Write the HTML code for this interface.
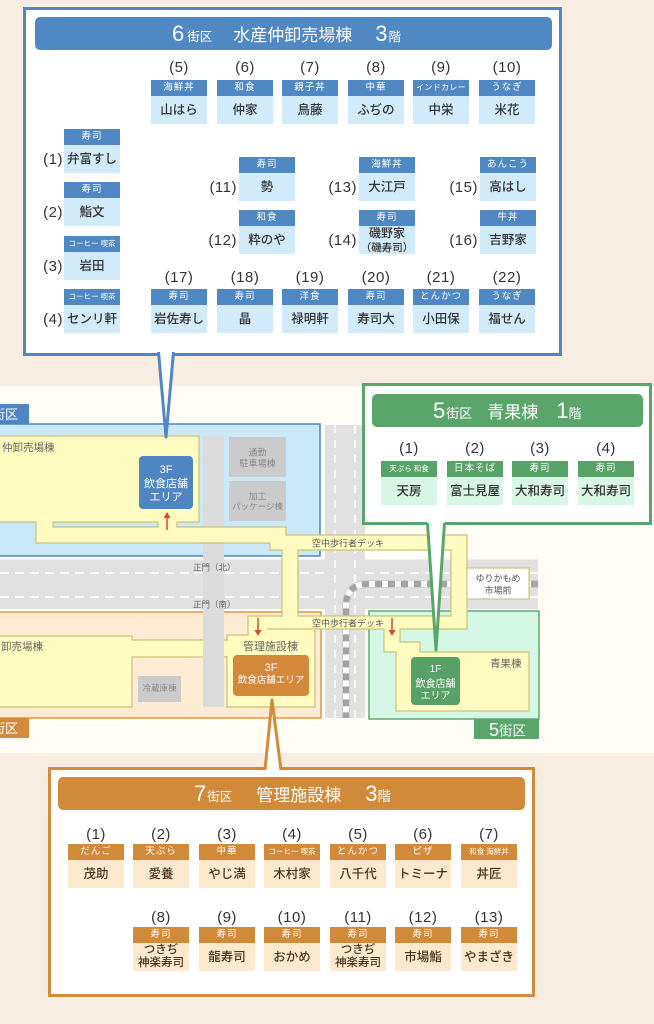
<!DOCTYPE html>
<html><head><meta charset="utf-8">
<style>
*{margin:0;padding:0;box-sizing:border-box}
html,body{width:654px;height:1024px}
body{overflow:hidden;background:#f7ede1;position:relative;font-family:"Liberation Sans","Noto Sans CJK JP",sans-serif}
.box{position:absolute;background:#fff;border:3px solid}
.bar{position:absolute;height:33px;border-radius:5px;color:#fff;white-space:nowrap;font-size:17px;line-height:37px}
.bar span{line-height:1}
.bar .g{font-size:22px}
.bar .s{font-size:12.5px}
.card{position:absolute;width:56px;text-align:center}
.card .h{height:16px;line-height:16px;font-size:9.5px;color:#fff;letter-spacing:1px;white-space:nowrap;overflow:hidden}
.card .h.t{font-size:7.5px;letter-spacing:0}
.card .h.m{font-size:8px;letter-spacing:.3px}
.card .b{height:28px;line-height:28px;font-size:12.5px;color:#333;font-weight:500;white-space:nowrap}
.card .b.two{line-height:13px;padding-top:1px;font-size:11.5px}
.bl .h{background:#5088c4}.bl .b{background:#d2ebfb}
.gr .h{background:#58a468}.gr .b{background:#d7f6e5}
.or .h{background:#d08a3a}.or .b{background:#fde9cd;color:#4b3320}
.nt{position:absolute;width:56px;text-align:center;font-size:15px;line-height:16px;color:#333;letter-spacing:.5px}
.ns{position:absolute;width:40px;text-align:right;font-size:15px;line-height:16px;color:#333;letter-spacing:.5px}
</style></head><body>

<svg width="654" height="1024" style="position:absolute;left:0;top:0" font-family="'Liberation Sans','Noto Sans CJK JP',sans-serif">
<rect x="0" y="386" width="654" height="367" fill="#fffdf6"/>
<!-- zones -->
<rect x="-5" y="424" width="325" height="132" fill="#cbe8f9" stroke="#4f86c4" stroke-width="1.5"/>
<rect x="0" y="404" width="29" height="20" fill="#4f86c2"/>
<text x="18" y="419" text-anchor="end" font-size="13" fill="#fff">街区</text>
<rect x="-5" y="612" width="326" height="106" fill="#fdebd4" stroke="#e0963f" stroke-width="1.5"/>
<rect x="0" y="718" width="29" height="20" fill="#d48a3a"/>
<text x="18" y="733" text-anchor="end" font-size="13" fill="#fff">街区</text>
<rect x="369" y="611" width="170" height="108" fill="#d5f7e5" stroke="#5dab70" stroke-width="1.5"/>
<rect x="474" y="719" width="65" height="20" fill="#5aa569"/>
<text x="489" y="736" font-size="18" fill="#fff">5<tspan font-size="13.5" dy="-0.5">街区</tspan></text>
<!-- roads -->
<rect x="0" y="559.5" width="538" height="49.5" fill="#e1e1e1"/>
<rect x="325" y="425" width="40" height="293" fill="#e1e1e1"/>
<g stroke="#fff" stroke-width="1.4" stroke-dasharray="9 6" fill="none">
<line x1="0" y1="573" x2="325" y2="573"/><line x1="0" y1="597" x2="325" y2="597"/>
<line x1="365" y1="573" x2="538" y2="573"/><line x1="365" y1="597" x2="538" y2="597"/>
<line x1="335" y1="425" x2="335" y2="718" stroke-dasharray="8 7"/><line x1="355" y1="425" x2="355" y2="718" stroke-dasharray="8 7"/>
</g>
<!-- track -->
<path d="M538,584 L368,584 Q346,584 346,606 L346,718" fill="none" stroke="#cfcfcf" stroke-width="8"/>
<path d="M538,584 L368,584 Q346,584 346,606 L346,718" fill="none" stroke="#fff" stroke-width="6"/>
<path d="M538,584 L368,584 Q346,584 346,606 L346,718" fill="none" stroke="#a3a3a3" stroke-width="6" stroke-dasharray="7 6"/>
<!-- lower-left building -->
<path d="M-5,636 L132,636 L132,640 L232,640 L232,657 L132,657 L132,707 L-5,707 Z" fill="#fffbc1" stroke="#cbc27a" stroke-width="1.2"/>
<!-- grey strip -->
<rect x="203" y="436" width="21" height="271" fill="#dbdbdb"/>
<!-- main network -->
<path fill-rule="evenodd" fill="#fffbc1" stroke="#cbc27a" stroke-width="1.2" d="M-5,436 L199,436 L199,522 L177,522 L177,527 L286,527 L286,535 L467,535 L467,629 L400,629 L400,642 L420,642 L420,652 L529,652 L529,711 L396,711 L396,652 L384,652 L384,629 L315,629 L315,707 L227,707 L227,635 L248,635 L248,616 L282,616 L282,550 L270,550 L270,543 L36,543 L36,522 L-5,522 Z M298,550 L451,550 L451,616 L298,616 Z M53,522 L158,522 L158,527 L53,527 Z"/>
<line x1="267" y1="629" x2="315" y2="629" stroke="#cbc27a" stroke-width="1.2"/>
<rect x="226" y="641" width="3" height="15" fill="#fffbc1"/>
<!-- grey boxes -->
<rect x="229" y="437" width="57" height="40" fill="#cbcbcb"/>
<rect x="229" y="481" width="57" height="40" fill="#cbcbcb"/>
<rect x="138" y="676" width="43" height="26" fill="#cbcbcb"/>
<g fill="#888" text-anchor="middle">
<text x="257.5" y="455.4" font-size="9">通勤</text>
<text x="257.5" y="466.4" font-size="9">駐車場棟</text>
<text x="257.5" y="499.4" font-size="9">加工</text>
<text x="257.5" y="509.4" font-size="8.5">パッケージ棟</text>
<text x="159.5" y="691.2" font-size="8.5">冷蔵庫棟</text>
</g>
<!-- station -->
<rect x="467" y="568" width="62" height="31" fill="#fff" stroke="#cfc57a" stroke-width="1.2"/>
<text x="498" y="581.4" font-size="9" fill="#555" text-anchor="middle">ゆりかもめ</text>
<text x="498" y="593.4" font-size="9" fill="#555" text-anchor="middle">市場前</text>
<!-- facility boxes -->
<rect x="139" y="456" width="54" height="53" rx="4" fill="#4f86c2"/>
<g fill="#fff" text-anchor="middle" font-size="11">
<text x="166" y="473">3F</text><text x="166" y="487">飲食店舗</text><text x="166" y="500.5">エリア</text>
</g>
<rect x="233" y="655" width="76" height="41" rx="4" fill="#d3883a"/>
<text x="271" y="671" fill="#fff" text-anchor="middle" font-size="11">3F</text>
<text x="271" y="682.8" fill="#fff" text-anchor="middle" font-size="9.5">飲食店舗エリア</text>
<rect x="411" y="657" width="49" height="48" rx="4" fill="#57a166"/>
<g fill="#fff" text-anchor="middle" font-size="10">
<text x="435.5" y="672">1F</text><text x="435.5" y="686.8">飲食店舗</text><text x="435.5" y="698.8">エリア</text>
</g>
<!-- labels -->
<g fill="#666">
<text x="2" y="451" font-size="10.5">仲卸売場棟</text>
<text x="1" y="650" font-size="10.5">卸売場棟</text>
<text x="243" y="650.2" font-size="11">管理施設棟</text>
<text x="490" y="667" font-size="10.5">青果棟</text>
<text x="193" y="570.3" font-size="8.5">正門（北）</text>
<text x="193" y="607.3" font-size="8.5">正門（南）</text>
</g>
<g fill="#555" font-size="9">
<text x="312" y="546.4">空中歩行者デッキ</text>
<text x="312" y="626.4">空中歩行者デッキ</text>
</g>
<!-- red arrows -->
<g stroke="#e0452f" stroke-width="1.5" fill="#e0452f">
<line x1="167" y1="530" x2="167" y2="516"/><polygon points="163.5,518 170.5,518 167,512" stroke="none"/>
<line x1="258" y1="618" x2="258" y2="632"/><polygon points="254.5,630 261.5,630 258,636" stroke="none"/>
<line x1="392" y1="618" x2="392" y2="632"/><polygon points="388.5,630 395.5,630 392,636" stroke="none"/>
</g>
</svg>

<!-- BLUE CALLOUT -->
<div class="box" style="left:23px;top:7px;width:539px;height:349px;border-color:#5087c3"></div>
<div class="bar" style="left:35px;top:17px;width:517px;background:#5088c4">
<div style="position:absolute;left:137px;top:0"><span class="g">6</span><span class="s" style="margin-left:3px">街区</span><span style="margin-left:21px">水産仲卸売場棟</span><span class="g" style="margin-left:23px">3</span><span class="s" style="margin-left:1px">階</span></div>
</div>

<div class="nt" style="left:151px;top:60px">(5)</div><div class="card bl" style="left:151px;top:80px"><div class="h">海鮮丼</div><div class="b">山はら</div></div>
<div class="nt" style="left:217px;top:60px">(6)</div><div class="card bl" style="left:217px;top:80px"><div class="h">和食</div><div class="b">仲家</div></div>
<div class="nt" style="left:282px;top:60px">(7)</div><div class="card bl" style="left:282px;top:80px"><div class="h">親子丼</div><div class="b">鳥藤</div></div>
<div class="nt" style="left:348px;top:60px">(8)</div><div class="card bl" style="left:348px;top:80px"><div class="h">中華</div><div class="b">ふぢの</div></div>
<div class="nt" style="left:413px;top:60px">(9)</div><div class="card bl" style="left:413px;top:80px"><div class="h m">インドカレー</div><div class="b">中栄</div></div>
<div class="nt" style="left:479px;top:60px">(10)</div><div class="card bl" style="left:479px;top:80px"><div class="h">うなぎ</div><div class="b">米花</div></div>

<div class="ns" style="left:23px;top:152px">(1)</div><div class="card bl" style="left:64px;top:129px"><div class="h">寿司</div><div class="b">弁富すし</div></div>
<div class="ns" style="left:23px;top:205px">(2)</div><div class="card bl" style="left:64px;top:182px"><div class="h">寿司</div><div class="b">鮨文</div></div>
<div class="ns" style="left:23px;top:259px">(3)</div><div class="card bl" style="left:64px;top:236px"><div class="h t">コーヒー 喫茶</div><div class="b">岩田</div></div>
<div class="ns" style="left:23px;top:312px">(4)</div><div class="card bl" style="left:64px;top:289px"><div class="h t">コーヒー 喫茶</div><div class="b">センリ軒</div></div>

<div class="ns" style="left:197px;top:180px">(11)</div><div class="card bl" style="left:239px;top:157px"><div class="h">寿司</div><div class="b">勢</div></div>
<div class="ns" style="left:197px;top:233px">(12)</div><div class="card bl" style="left:239px;top:210px"><div class="h">和食</div><div class="b">粋のや</div></div>
<div class="ns" style="left:317px;top:180px">(13)</div><div class="card bl" style="left:359px;top:157px"><div class="h">海鮮丼</div><div class="b">大江戸</div></div>
<div class="ns" style="left:317px;top:233px">(14)</div><div class="card bl" style="left:359px;top:210px"><div class="h">寿司</div><div class="b" style="line-height:14px;font-size:12px">磯野家<br><span style="font-size:10.5px">（磯寿司）</span></div></div>
<div class="ns" style="left:438px;top:180px">(15)</div><div class="card bl" style="left:480px;top:157px"><div class="h">あんこう</div><div class="b">高はし</div></div>
<div class="ns" style="left:438px;top:233px">(16)</div><div class="card bl" style="left:480px;top:210px"><div class="h">牛丼</div><div class="b">吉野家</div></div>

<div class="nt" style="left:151px;top:270px">(17)</div><div class="card bl" style="left:151px;top:289px"><div class="h">寿司</div><div class="b">岩佐寿し</div></div>
<div class="nt" style="left:217px;top:270px">(18)</div><div class="card bl" style="left:217px;top:289px"><div class="h">寿司</div><div class="b">晶</div></div>
<div class="nt" style="left:282px;top:270px">(19)</div><div class="card bl" style="left:282px;top:289px"><div class="h">洋食</div><div class="b">禄明軒</div></div>
<div class="nt" style="left:348px;top:270px">(20)</div><div class="card bl" style="left:348px;top:289px"><div class="h">寿司</div><div class="b">寿司大</div></div>
<div class="nt" style="left:413px;top:270px">(21)</div><div class="card bl" style="left:413px;top:289px"><div class="h">とんかつ</div><div class="b">小田保</div></div>
<div class="nt" style="left:479px;top:270px">(22)</div><div class="card bl" style="left:479px;top:289px"><div class="h">うなぎ</div><div class="b">福せん</div></div>

<!-- GREEN CALLOUT -->
<div class="box" style="left:362px;top:383px;width:290px;height:142px;border-color:#5aa569"></div>
<div class="bar" style="left:372px;top:394px;width:271px;background:#5aa569">
<div style="position:absolute;left:61px;top:0"><span class="g">5</span><span style="font-size:13px;margin-left:1px">街区</span><span style="margin-left:15px">青果棟</span><span class="g" style="margin-left:18px">1</span><span style="font-size:13px">階</span></div>
</div>
<div class="nt" style="left:381px;top:441px">(1)</div><div class="card gr" style="left:381px;top:461px"><div class="h t">天ぷら 和食</div><div class="b">天房</div></div>
<div class="nt" style="left:447px;top:441px">(2)</div><div class="card gr" style="left:447px;top:461px"><div class="h">日本そば</div><div class="b">富士見屋</div></div>
<div class="nt" style="left:512px;top:441px">(3)</div><div class="card gr" style="left:512px;top:461px"><div class="h">寿司</div><div class="b">大和寿司</div></div>
<div class="nt" style="left:578px;top:441px">(4)</div><div class="card gr" style="left:578px;top:461px"><div class="h">寿司</div><div class="b">大和寿司</div></div>

<!-- ORANGE CALLOUT -->
<div class="box" style="left:48px;top:767px;width:487px;height:230px;border-color:#d38b3b"></div>
<div class="bar" style="left:58px;top:777px;width:467px;background:#d08a3a">
<div style="position:absolute;left:136px;top:0"><span class="g">7</span><span class="s" style="margin-left:1px">街区</span><span style="margin-left:24px">管理施設棟</span><span class="g" style="margin-left:24px">3</span><span style="font-size:13.5px">階</span></div>
</div>
<div class="nt" style="left:68px;top:827px">(1)</div><div class="card or" style="left:68px;top:844px"><div class="h">だんご</div><div class="b">茂助</div></div>
<div class="nt" style="left:133px;top:827px">(2)</div><div class="card or" style="left:133px;top:844px"><div class="h">天ぷら</div><div class="b">愛養</div></div>
<div class="nt" style="left:199px;top:827px">(3)</div><div class="card or" style="left:199px;top:844px"><div class="h">中華</div><div class="b">やじ満</div></div>
<div class="nt" style="left:264px;top:827px">(4)</div><div class="card or" style="left:264px;top:844px"><div class="h t">コーヒー 喫茶</div><div class="b">木村家</div></div>
<div class="nt" style="left:330px;top:827px">(5)</div><div class="card or" style="left:330px;top:844px"><div class="h">とんかつ</div><div class="b">八千代</div></div>
<div class="nt" style="left:395px;top:827px">(6)</div><div class="card or" style="left:395px;top:844px"><div class="h">ピザ</div><div class="b">トミーナ</div></div>
<div class="nt" style="left:461px;top:827px">(7)</div><div class="card or" style="left:461px;top:844px"><div class="h t">和食 海鮮丼</div><div class="b">丼匠</div></div>

<div class="nt" style="left:133px;top:910px">(8)</div><div class="card or" style="left:133px;top:927px"><div class="h">寿司</div><div class="b two">つきぢ<br>神楽寿司</div></div>
<div class="nt" style="left:199px;top:910px">(9)</div><div class="card or" style="left:199px;top:927px"><div class="h">寿司</div><div class="b">龍寿司</div></div>
<div class="nt" style="left:264px;top:910px">(10)</div><div class="card or" style="left:264px;top:927px"><div class="h">寿司</div><div class="b">おかめ</div></div>
<div class="nt" style="left:330px;top:910px">(11)</div><div class="card or" style="left:330px;top:927px"><div class="h">寿司</div><div class="b two">つきぢ<br>神楽寿司</div></div>
<div class="nt" style="left:395px;top:910px">(12)</div><div class="card or" style="left:395px;top:927px"><div class="h">寿司</div><div class="b">市場鮨</div></div>
<div class="nt" style="left:461px;top:910px">(13)</div><div class="card or" style="left:461px;top:927px"><div class="h">寿司</div><div class="b">やまざき</div></div>

<!-- POINTERS -->
<svg width="654" height="1024" style="position:absolute;left:0;top:0">
<polygon points="158,349 174,349 166,437" fill="#fff"/>
<polyline points="158.5,352 166,437 173.5,352" fill="none" stroke="#5087c3" stroke-width="3" stroke-linejoin="round"/>
<polygon points="427,519 445,519 436,650" fill="#fff"/>
<polyline points="427.5,523 436,650 444.5,523" fill="none" stroke="#5aa569" stroke-width="3" stroke-linejoin="round"/>
<polygon points="264,774 282,774 272,700" fill="#fff"/>
<polyline points="265,770 272,700 281,770" fill="none" stroke="#d38b3b" stroke-width="3" stroke-linejoin="round"/>
</svg>
</body></html>
